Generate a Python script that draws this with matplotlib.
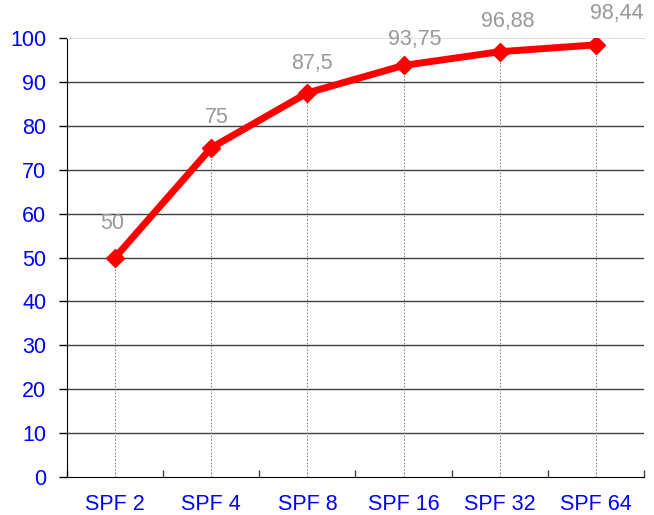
import numpy as np
import matplotlib.pyplot as plt

categories = ["SPF 2", "SPF 4", "SPF 8", "SPF 16", "SPF 32", "SPF 64"]
values = [50, 75, 87.5, 93.75, 96.88, 98.44]
value_labels = ["50", "75", "87,5", "93,75", "96,88", "98,44"]
y_ticks = list(range(0, 101, 10))

plt.rcParams['font.family'] = ['Liberation Sans', 'DejaVu Sans']

fig = plt.figure(figsize=(6.54, 5.15), dpi=100)
ax = fig.add_axes([67/654, 38/515, 577/654, 439/515])

x = np.arange(len(categories))

# gridlines (100 line is drawn as the light top border)
for t in y_ticks[1:-1]:
    ax.axhline(t, color='#404040', lw=1, zorder=1)

# dotted drop lines
ax.vlines(x, 0, values, colors='#888888', linestyles=(0, (1.5, 1.5)), lw=0.8, zorder=2)

ax.plot(x, values, color='#ff0000', lw=5, marker='D', markersize=9.5,
        solid_capstyle='butt', zorder=3)

offsets = [(-3, 34), (6, 30), (5, 29), (11, 26), (8, 30), (21, 31)]
for xi, v, lab, off in zip(x, values, value_labels, offsets):
    ax.annotate(lab, (xi, v), xytext=(off[0] / 1.389, off[1] / 1.389),
                textcoords='offset points', ha='center', va='center',
                color='#999999', fontsize=15.5, annotation_clip=False)

ax.set_xlim(-0.5, len(categories) - 0.5)
ax.set_ylim(0, 100)
ax.set_yticks(y_ticks)
ax.set_xticks(x)
ax.set_xticklabels(categories)
ax.set_xticks(np.arange(-0.5, len(categories), 1), minor=True)

ax.tick_params(axis='y', colors='black', labelcolor='#0000ff', labelsize=15.5,
               direction='out', length=6, width=1, pad=9)
ax.tick_params(axis='x', which='major', length=0, labelcolor='#0000ff',
               labelsize=15.5, pad=12)
ax.tick_params(axis='x', which='minor', direction='in', length=5, width=1,
               color='#404040')

ax.spines['left'].set_color('black')
ax.spines['bottom'].set_color('black')
ax.spines['top'].set_color('#e0e0e0')
ax.spines['right'].set_visible(False)

fig.savefig('out.png', dpi=100)
